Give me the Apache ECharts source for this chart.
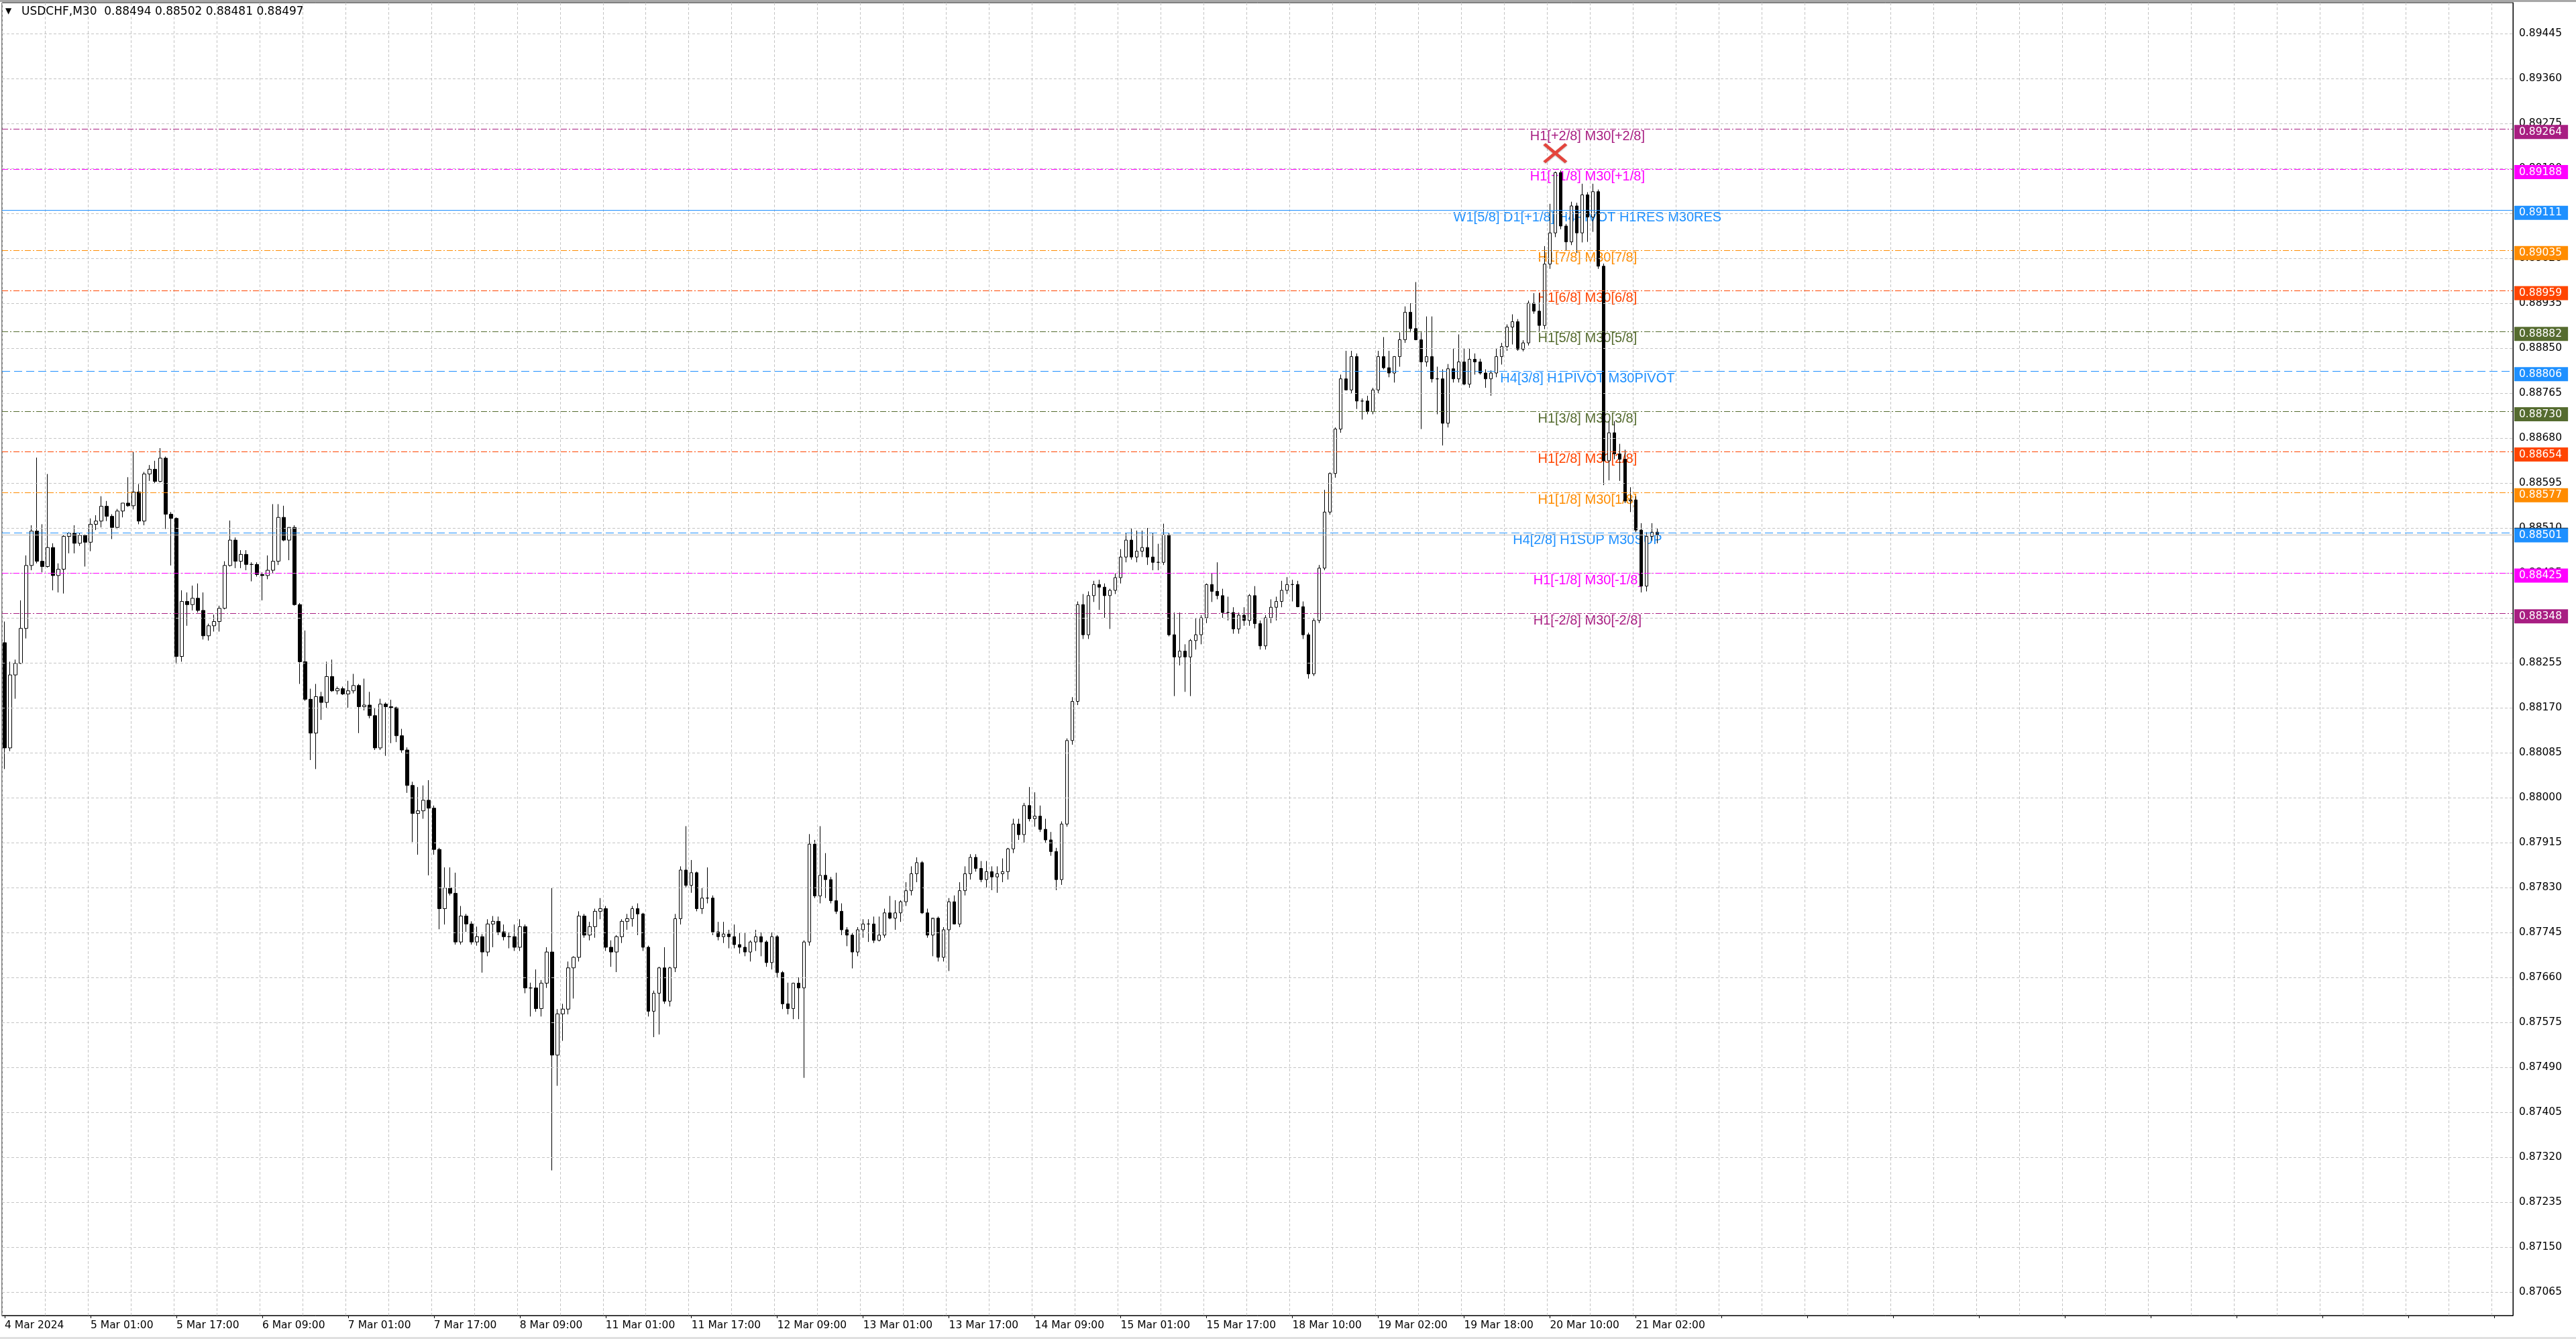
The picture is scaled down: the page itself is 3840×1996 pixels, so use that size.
<!DOCTYPE html>
<html><head><meta charset="utf-8">
<script src="https://cdn.jsdelivr.net/npm/echarts@6/dist/echarts.min.js"></script>
<style>html,body{margin:0;padding:0;background:#fff}#c{width:3840px;height:1996px}</style>
</head><body><div id="c"></div>
<script>
// ---------- DATA (H1 candles) ----------
const opens = [
0.88293,0.88094,0.88232,0.88254,0.88320,0.88439,0.88504,0.88447,0.88437,0.88473,
0.88420,0.88432,0.88494,0.88500,0.88481,0.88496,0.88483,0.88517,0.88523,0.88551,
0.88532,0.88511,0.88542,0.88557,0.88552,0.88578,0.88523,0.88612,0.88621,0.88598,
0.88642,0.88536,0.88528,0.88267,0.88371,0.88365,0.88377,0.88354,0.88306,0.88325,
0.88333,0.88358,0.88439,0.88487,0.88447,0.88460,0.88441,0.88441,0.88422,0.88420,
0.88430,0.88447,0.88530,0.88487,0.88511,0.88365,0.88257,0.88186,0.88122,0.88191,
0.88180,0.88229,0.88202,0.88206,0.88196,0.88202,0.88212,0.88172,0.88175,0.88155,
0.88094,0.88177,0.88172,0.88170,0.88117,0.88090,0.88023,0.87970,0.87975,0.87995,
0.87980,0.87902,0.87790,0.87829,0.87819,0.87727,0.87776,0.87761,0.87727,0.87737,
0.87708,0.87761,0.87766,0.87746,0.87737,0.87737,0.87717,0.87756,0.87640,0.87640,
0.87601,0.87649,0.87708,0.87513,0.87591,0.87600,0.87678,0.87698,0.87776,0.87740,
0.87756,0.87785,0.87790,0.87717,0.87708,0.87737,0.87766,0.87771,0.87790,0.87780,
0.87717,0.87596,0.87630,0.87678,0.87615,0.87678,0.87771,0.87863,0.87834,0.87858,
0.87790,0.87810,0.87810,0.87746,0.87737,0.87742,0.87737,0.87722,0.87717,0.87708,
0.87727,0.87737,0.87727,0.87688,0.87737,0.87669,0.87610,0.87601,0.87649,0.87640,
0.87727,0.87912,0.87814,0.87853,0.87845,0.87805,0.87785,0.87750,0.87740,0.87708,
0.87750,0.87761,0.87761,0.87730,0.87740,0.87782,0.87772,0.87782,0.87803,0.87824,
0.87856,0.87877,0.87782,0.87740,0.87772,0.87698,0.87750,0.87803,0.87761,0.87824,
0.87856,0.87887,0.87866,0.87845,0.87860,0.87850,0.87856,0.87860,0.87903,0.87950,
0.87930,0.87985,0.87960,0.87965,0.87940,0.87920,0.87898,0.87845,0.87950,0.88108,
0.88182,0.88365,0.88308,0.88382,0.88403,0.88398,0.88382,0.88392,0.88416,0.88455,
0.88487,0.88455,0.88466,0.88473,0.88455,0.88445,0.88445,0.88497,0.88308,0.88266,
0.88277,0.88266,0.88297,0.88308,0.88340,0.88403,0.88390,0.88382,0.88350,0.88350,
0.88319,0.88345,0.88335,0.88382,0.88329,0.88287,0.88340,0.88360,0.88371,0.88392,
0.88403,0.88403,0.88361,0.88308,0.88234,0.88335,0.88434,0.88540,0.88613,0.88697,
0.88792,0.88771,0.88834,0.88750,0.88750,0.88730,0.88771,0.88834,0.88813,0.88803,
0.88834,0.88866,0.88918,0.88887,0.88866,0.88824,0.88834,0.88792,0.88792,0.88708,
0.88811,0.88792,0.88824,0.88782,0.88829,0.88824,0.88803,0.88792,0.88803,0.88834,
0.88853,0.88890,0.88900,0.88848,0.88860,0.88935,0.88920,0.88893,0.89009,0.89068,
0.89182,0.89081,0.89051,0.89119,0.89068,0.89140,0.89098,0.89146,0.89005,0.88637,
0.88690,0.88650,0.88640,0.88561,0.88563,0.88506,0.88400,0.88494,0.88502
];
const highs = [
0.88333,0.88257,0.88261,0.88373,0.88458,0.88515,0.88643,0.88517,0.88612,0.88481,
0.88443,0.88496,0.88502,0.88515,0.88500,0.88498,0.88528,0.88534,0.88570,0.88561,
0.88536,0.88546,0.88557,0.88606,0.88654,0.88593,0.88616,0.88629,0.88637,0.88661,
0.88645,0.88540,0.88530,0.88392,0.88388,0.88401,0.88405,0.88388,0.88329,0.88346,
0.88363,0.88447,0.88524,0.88492,0.88468,0.88468,0.88445,0.88445,0.88426,0.88458,
0.88555,0.88555,0.88552,0.88511,0.88515,0.88368,0.88316,0.88206,0.88215,0.88200,
0.88257,0.88261,0.88210,0.88210,0.88221,0.88234,0.88215,0.88225,0.88200,0.88170,
0.88187,0.88180,0.88185,0.88172,0.88130,0.88095,0.88030,0.88020,0.88023,0.88033,
0.87985,0.87905,0.87868,0.87868,0.87858,0.87795,0.87780,0.87766,0.87756,0.87742,
0.87770,0.87776,0.87775,0.87760,0.87745,0.87760,0.87770,0.87760,0.87650,0.87675,
0.87655,0.87717,0.87829,0.87600,0.87610,0.87690,0.87700,0.87785,0.87780,0.87765,
0.87790,0.87810,0.87795,0.87730,0.87740,0.87770,0.87780,0.87795,0.87800,0.87782,
0.87720,0.87635,0.87680,0.87717,0.87680,0.87780,0.87870,0.87946,0.87882,0.87860,
0.87830,0.87868,0.87815,0.87765,0.87765,0.87750,0.87760,0.87745,0.87745,0.87730,
0.87750,0.87745,0.87730,0.87745,0.87740,0.87672,0.87650,0.87650,0.87660,0.87730,
0.87931,0.87920,0.87946,0.87895,0.87850,0.87858,0.87800,0.87755,0.87745,0.87755,
0.87770,0.87770,0.87775,0.87775,0.87790,0.87814,0.87806,0.87806,0.87840,0.87870,
0.87887,0.87880,0.87790,0.87770,0.87775,0.87755,0.87810,0.87815,0.87840,0.87870,
0.87893,0.87893,0.87880,0.87880,0.87870,0.87870,0.87885,0.87905,0.87960,0.87960,
0.87990,0.88020,0.88010,0.87985,0.87960,0.87935,0.87905,0.87955,0.88112,0.88190,
0.88371,0.88385,0.88390,0.88410,0.88412,0.88405,0.88395,0.88425,0.88470,0.88500,
0.88510,0.88505,0.88505,0.88510,0.88500,0.88480,0.88518,0.88500,0.88350,0.88350,
0.88290,0.88300,0.88340,0.88345,0.88405,0.88424,0.88445,0.88395,0.88380,0.88360,
0.88350,0.88360,0.88385,0.88400,0.88335,0.88345,0.88375,0.88380,0.88410,0.88417,
0.88412,0.88410,0.88371,0.88312,0.88340,0.88440,0.88582,0.88615,0.88700,0.88800,
0.88845,0.88845,0.88840,0.88755,0.88760,0.88775,0.88845,0.88871,0.88845,0.88835,
0.88880,0.88929,0.88935,0.88975,0.88880,0.88910,0.88910,0.88815,0.88810,0.88820,
0.88850,0.88876,0.88850,0.88850,0.88840,0.88830,0.88810,0.88808,0.88850,0.88860,
0.88895,0.88914,0.88905,0.88865,0.88940,0.88954,0.88954,0.89043,0.89123,0.89184,
0.89186,0.89085,0.89127,0.89125,0.89161,0.89145,0.89161,0.89150,0.89010,0.88712,
0.88712,0.88669,0.88658,0.88587,0.88570,0.88519,0.88502,0.88519,0.88510
];
const lows = [
0.88054,0.88088,0.88187,0.88253,0.88301,0.88430,0.88443,0.88426,0.88435,0.88392,
0.88388,0.88386,0.88462,0.88462,0.88476,0.88437,0.88466,0.88506,0.88511,0.88523,
0.88489,0.88508,0.88530,0.88550,0.88545,0.88517,0.88515,0.88599,0.88595,0.88596,
0.88508,0.88439,0.88253,0.88257,0.88325,0.88354,0.88350,0.88299,0.88297,0.88314,
0.88314,0.88356,0.88437,0.88434,0.88434,0.88430,0.88409,0.88418,0.88373,0.88413,
0.88425,0.88440,0.88485,0.88449,0.88363,0.88215,0.88183,0.88071,0.88054,0.88147,
0.88170,0.88200,0.88195,0.88194,0.88170,0.88197,0.88122,0.88165,0.88150,0.88090,
0.88090,0.88079,0.88103,0.88105,0.88085,0.88009,0.87916,0.87892,0.87960,0.87853,
0.87892,0.87751,0.87760,0.87815,0.87722,0.87722,0.87746,0.87722,0.87720,0.87669,
0.87700,0.87717,0.87740,0.87730,0.87715,0.87710,0.87710,0.87630,0.87586,0.87595,
0.87586,0.87640,0.87295,0.87455,0.87540,0.87590,0.87620,0.87690,0.87735,0.87730,
0.87735,0.87770,0.87710,0.87680,0.87670,0.87725,0.87750,0.87756,0.87740,0.87710,
0.87586,0.87547,0.87552,0.87610,0.87605,0.87670,0.87760,0.87830,0.87820,0.87785,
0.87780,0.87800,0.87740,0.87730,0.87725,0.87715,0.87715,0.87705,0.87700,0.87690,
0.87710,0.87700,0.87680,0.87675,0.87660,0.87600,0.87590,0.87581,0.87581,0.87470,
0.87720,0.87810,0.87800,0.87810,0.87800,0.87780,0.87740,0.87719,0.87677,0.87700,
0.87735,0.87727,0.87725,0.87728,0.87735,0.87770,0.87750,0.87765,0.87795,0.87815,
0.87840,0.87780,0.87735,0.87700,0.87690,0.87690,0.87672,0.87760,0.87755,0.87815,
0.87845,0.87860,0.87840,0.87830,0.87825,0.87820,0.87840,0.87845,0.87895,0.87920,
0.87915,0.87955,0.87945,0.87935,0.87915,0.87890,0.87825,0.87835,0.87945,0.88100,
0.88175,0.88300,0.88300,0.88370,0.88355,0.88340,0.88319,0.88385,0.88405,0.88445,
0.88450,0.88445,0.88455,0.88440,0.88430,0.88430,0.88440,0.88305,0.88192,0.88250,
0.88200,0.88192,0.88280,0.88290,0.88330,0.88370,0.88375,0.88340,0.88335,0.88310,
0.88310,0.88325,0.88325,0.88320,0.88280,0.88280,0.88330,0.88335,0.88360,0.88385,
0.88371,0.88360,0.88300,0.88225,0.88230,0.88330,0.88430,0.88535,0.88605,0.88690,
0.88770,0.88765,0.88735,0.88715,0.88725,0.88725,0.88765,0.88810,0.88795,0.88785,
0.88815,0.88860,0.88880,0.88865,0.88697,0.88815,0.88785,0.88725,0.88666,0.88700,
0.88785,0.88785,0.88780,0.88775,0.88800,0.88800,0.88775,0.88760,0.88795,0.88819,
0.88845,0.88857,0.88845,0.88844,0.88855,0.88915,0.88882,0.88886,0.89000,0.89060,
0.89075,0.89034,0.89045,0.89030,0.89050,0.89051,0.89070,0.89000,0.88591,0.88600,
0.88640,0.88599,0.88557,0.88540,0.88502,0.88388,0.88390,0.88486,0.88481
];
const closes = [
0.88094,0.88232,0.88254,0.88320,0.88439,0.88504,0.88447,0.88437,0.88473,0.88420,
0.88432,0.88494,0.88500,0.88481,0.88496,0.88483,0.88517,0.88523,0.88551,0.88532,
0.88511,0.88542,0.88557,0.88552,0.88578,0.88523,0.88612,0.88621,0.88598,0.88642,
0.88536,0.88528,0.88267,0.88371,0.88365,0.88377,0.88354,0.88306,0.88325,0.88333,
0.88358,0.88439,0.88487,0.88447,0.88460,0.88441,0.88441,0.88422,0.88420,0.88430,
0.88447,0.88530,0.88487,0.88511,0.88365,0.88257,0.88186,0.88122,0.88191,0.88180,
0.88229,0.88202,0.88206,0.88196,0.88202,0.88212,0.88172,0.88175,0.88155,0.88094,
0.88177,0.88172,0.88170,0.88117,0.88090,0.88023,0.87970,0.87975,0.87995,0.87980,
0.87902,0.87790,0.87829,0.87819,0.87727,0.87776,0.87761,0.87727,0.87737,0.87708,
0.87761,0.87766,0.87746,0.87737,0.87737,0.87717,0.87756,0.87640,0.87640,0.87601,
0.87649,0.87708,0.87513,0.87591,0.87600,0.87678,0.87698,0.87776,0.87740,0.87756,
0.87785,0.87790,0.87717,0.87708,0.87737,0.87766,0.87771,0.87790,0.87780,0.87717,
0.87596,0.87630,0.87678,0.87615,0.87678,0.87771,0.87863,0.87834,0.87858,0.87790,
0.87810,0.87810,0.87746,0.87737,0.87742,0.87737,0.87722,0.87717,0.87708,0.87727,
0.87737,0.87727,0.87688,0.87737,0.87669,0.87610,0.87601,0.87649,0.87640,0.87727,
0.87912,0.87814,0.87853,0.87845,0.87805,0.87785,0.87750,0.87740,0.87708,0.87750,
0.87761,0.87761,0.87730,0.87740,0.87782,0.87772,0.87782,0.87803,0.87824,0.87856,
0.87877,0.87782,0.87740,0.87772,0.87698,0.87750,0.87803,0.87761,0.87824,0.87856,
0.87887,0.87866,0.87845,0.87860,0.87850,0.87856,0.87860,0.87903,0.87950,0.87930,
0.87985,0.87960,0.87965,0.87940,0.87920,0.87898,0.87845,0.87950,0.88108,0.88182,
0.88365,0.88308,0.88382,0.88403,0.88398,0.88382,0.88392,0.88416,0.88455,0.88487,
0.88455,0.88466,0.88473,0.88455,0.88445,0.88445,0.88497,0.88308,0.88266,0.88277,
0.88266,0.88297,0.88308,0.88340,0.88403,0.88390,0.88382,0.88350,0.88350,0.88319,
0.88345,0.88335,0.88382,0.88329,0.88287,0.88340,0.88360,0.88371,0.88392,0.88403,
0.88403,0.88361,0.88308,0.88234,0.88335,0.88434,0.88540,0.88613,0.88697,0.88792,
0.88771,0.88834,0.88750,0.88750,0.88730,0.88771,0.88834,0.88813,0.88803,0.88834,
0.88866,0.88918,0.88887,0.88866,0.88824,0.88834,0.88792,0.88792,0.88708,0.88811,
0.88792,0.88824,0.88782,0.88829,0.88824,0.88803,0.88792,0.88803,0.88834,0.88853,
0.88890,0.88900,0.88848,0.88860,0.88935,0.88920,0.88893,0.89009,0.89068,0.89182,
0.89081,0.89051,0.89119,0.89068,0.89140,0.89098,0.89146,0.89005,0.88637,0.88690,
0.88650,0.88640,0.88561,0.88563,0.88506,0.88400,0.88494,0.88502,0.88497
];
const timeLabels = ['4 Mar 2024','5 Mar 01:00','5 Mar 17:00','6 Mar 09:00','7 Mar 01:00','7 Mar 17:00',
 '8 Mar 09:00','11 Mar 01:00','11 Mar 17:00','12 Mar 09:00','13 Mar 01:00','13 Mar 17:00','14 Mar 09:00',
 '15 Mar 01:00','15 Mar 17:00','18 Mar 10:00','19 Mar 02:00','19 Mar 18:00','20 Mar 10:00','21 Mar 02:00'];
const priceTicks = [0.87065,0.87150,0.87235,0.87320,0.87405,0.87490,0.87575,0.87660,0.87745,0.87830,
 0.87915,0.88000,0.88085,0.88170,0.88255,0.88340,0.88425,0.88510,0.88595,0.88680,0.88765,0.88850,
 0.88935,0.89020,0.89105,0.89190,0.89275,0.89360,0.89445];
const levelValues = [0.89264,0.89188,0.89111,0.89035,0.88959,0.88882,0.88806,0.88730,0.88654,0.88577,0.88501,0.88425,0.88348];
const levelNames = ['H1[+2/8] M30[+2/8]','H1[+1/8] M30[+1/8]','W1[5/8] D1[+1/8] H4PIVOT H1RES M30RES',
 'H1[7/8] M30[7/8]','H1[6/8] M30[6/8]','H1[5/8] M30[5/8]','H4[3/8] H1PIVOT M30PIVOT','H1[3/8] M30[3/8]',
 'H1[2/8] M30[2/8]','H1[1/8] M30[1/8]','H4[2/8] H1SUP M30SUP','H1[-1/8] M30[-1/8]','H1[-2/8] M30[-2/8]'];
const levelColors = ['#A81E82','#FF00FF','#1E90FF','#FF8C00','#FF4500','#556B2F','#1E90FF','#556B2F',
 '#FF4500','#FF8C00','#1E90FF','#FF00FF','#A81E82'];
const levelKinds = ['dashdot','dashdot','solid','dashdot','dashdot','dashdot','dash','dashdot','dashdot','dashdot','dash','dashdot','dashdot'];
const bidPrice = 0.88497;
const headerText = 'USDCHF,M30  0.88494 0.88502 0.88481 0.88497';
const crossMark = [289, 0.89219];

// ---------- LAYOUT ----------
const Y_MIN = 0.870205, Y_MAX = 0.895034;
const N_SLOTS = 468, LAST_SLOT = 467, LABEL_SLOT = 295;
const FONT = 'DejaVu Sans';
const GRID_COLOR = '#c4c4c4';
const dashPatterns = {dashdot:[9,3,2,3], dash:[12,6], solid:'solid'};

const cats = Array.from({length: N_SLOTS}, (_, i) => String(i));
const candles = opens.map((o, i) => [o, closes[i], lows[i], highs[i]]);

const chart = echarts.init(document.getElementById('c'), null, {renderer: 'canvas', width: 3840, height: 1996});
chart.setOption({
  animation: false,
  backgroundColor: '#ffffff',
  grid: {left: 3, right: 94, top: 4, bottom: 35, show: true, borderColor: '#000', borderWidth: 1, backgroundColor: '#fff'},
  xAxis: {
    type: 'category', data: cats, boundaryGap: true,
    axisLine: {show: true, lineStyle: {color: '#000', width: 1}},
    axisTick: {show: true, interval: 15, alignWithLabel: true, length: 4, lineStyle: {color: '#000'}},
    axisLabel: {show: true, interval: 15, align: 'left', margin: 7, color: '#000', fontFamily: FONT, fontSize: 15.5,
      formatter: (v, i) => (i % 16 === 0 && timeLabels[i / 16]) ? timeLabels[i / 16] : ''},
    splitLine: {show: true, interval: 7, lineStyle: {color: GRID_COLOR, type: [4, 3], width: 1}}
  },
  yAxis: {
    type: 'value', position: 'right', min: Y_MIN, max: Y_MAX, scale: true,
    axisLine: {show: true, lineStyle: {color: '#000'}}, axisTick: {show: false},
    axisLabel: {show: false}, splitLine: {show: false}
  },
  graphic: [
    {type: 'rect', shape: {x: 0, y: 0, width: 3840, height: 3}, style: {fill: '#a8a8a8'}, silent: true},
    {type: 'rect', shape: {x: 0, y: 1993, width: 3840, height: 3}, style: {fill: '#e0e0e0'}, silent: true},
    {type: 'text', left: 8, top: 11, style: {text: '\u25BC', font: '12px "DejaVu Sans"', fill: '#000'}, z: 100},
    {type: 'text', left: 32, top: 9, style: {text: headerText, font: '17px "DejaVu Sans"', fill: '#000'}, z: 100}
  ],
  series: [
    { // price grid lines + price tick labels
      type: 'scatter', z: 1, silent: true, symbolSize: 0, itemStyle: {opacity: 1},
      emphasis: {disabled: true},
      data: priceTicks.map(v => [LAST_SLOT, v]),
      label: {show: true, position: 'right', distance: 13, color: '#000', opacity: 1, fontFamily: FONT, fontSize: 15.5,
        formatter: p => p.value[1].toFixed(5)},
      markLine: {silent: true, precision: 5, symbol: ['none', 'none'], label: {show: false},
        emphasis: {disabled: true},
        lineStyle: {color: GRID_COLOR, type: [4, 3], width: 1, opacity: 1},
        data: priceTicks.map(v => ({yAxis: v}))}
    },
    { // level lines + their names
      type: 'scatter', z: 2, silent: true, symbolSize: 0, itemStyle: {opacity: 1},
      emphasis: {disabled: true},
      data: levelValues.map((v, i) => ({value: [LABEL_SLOT, v], label: {color: levelColors[i]}})),
      label: {show: true, position: 'bottom', distance: 1, opacity: 1, fontFamily: 'Liberation Sans, Arial', fontSize: 20,
        formatter: p => levelNames[p.dataIndex]},
      markLine: {silent: true, precision: 5, symbol: ['none', 'none'], label: {show: false},
        emphasis: {disabled: true},
        data: [{yAxis: bidPrice, lineStyle: {color: '#c0c0c0', type: 'solid', width: 1, opacity: 1}}].concat(
          levelValues.map((v, i) => ({yAxis: v, lineStyle: {color: levelColors[i], type: dashPatterns[levelKinds[i]], width: 1, opacity: 1}}))
        )}
    },
    { // price badges on the axis
      type: 'scatter', z: 3, silent: true, symbolSize: 0, itemStyle: {opacity: 1},
      emphasis: {disabled: true},
      data: [{value: [LAST_SLOT, bidPrice], label: {backgroundColor: '#000', offset: [0, 0]}}].concat(
        levelValues.map((v, i) => ({value: [LAST_SLOT, v], label: {backgroundColor: levelColors[i]}}))),
      label: {show: true, position: 'right', distance: 6, offset: [0, 4], color: '#fff', opacity: 1, fontFamily: FONT, fontSize: 15.5,
        padding: [3, 9, 2, 7], formatter: p => p.value[1].toFixed(5)}
    },
    {
      type: 'candlestick', z: 4, data: candles, barWidth: 5,
      itemStyle: {color: '#ffffff', color0: '#000000', borderColor: '#000000', borderColor0: '#000000', borderWidth: 1}
    },
    {
      type: 'scatter', z: 5, silent: true, data: [crossMark], emphasis: {disabled: true},
      symbol: 'path://M2,0 L10,8 L18,0 L20,2 L12,10 L20,18 L18,20 L10,12 L2,20 L0,18 L8,10 L0,2 Z',
      symbolSize: [36, 30], itemStyle: {color: '#E4453D', opacity: 1, shadowColor: 'rgba(0,0,0,0.25)', shadowBlur: 2, shadowOffsetY: 1}
    }
  ]
});
</script>
</body></html>
